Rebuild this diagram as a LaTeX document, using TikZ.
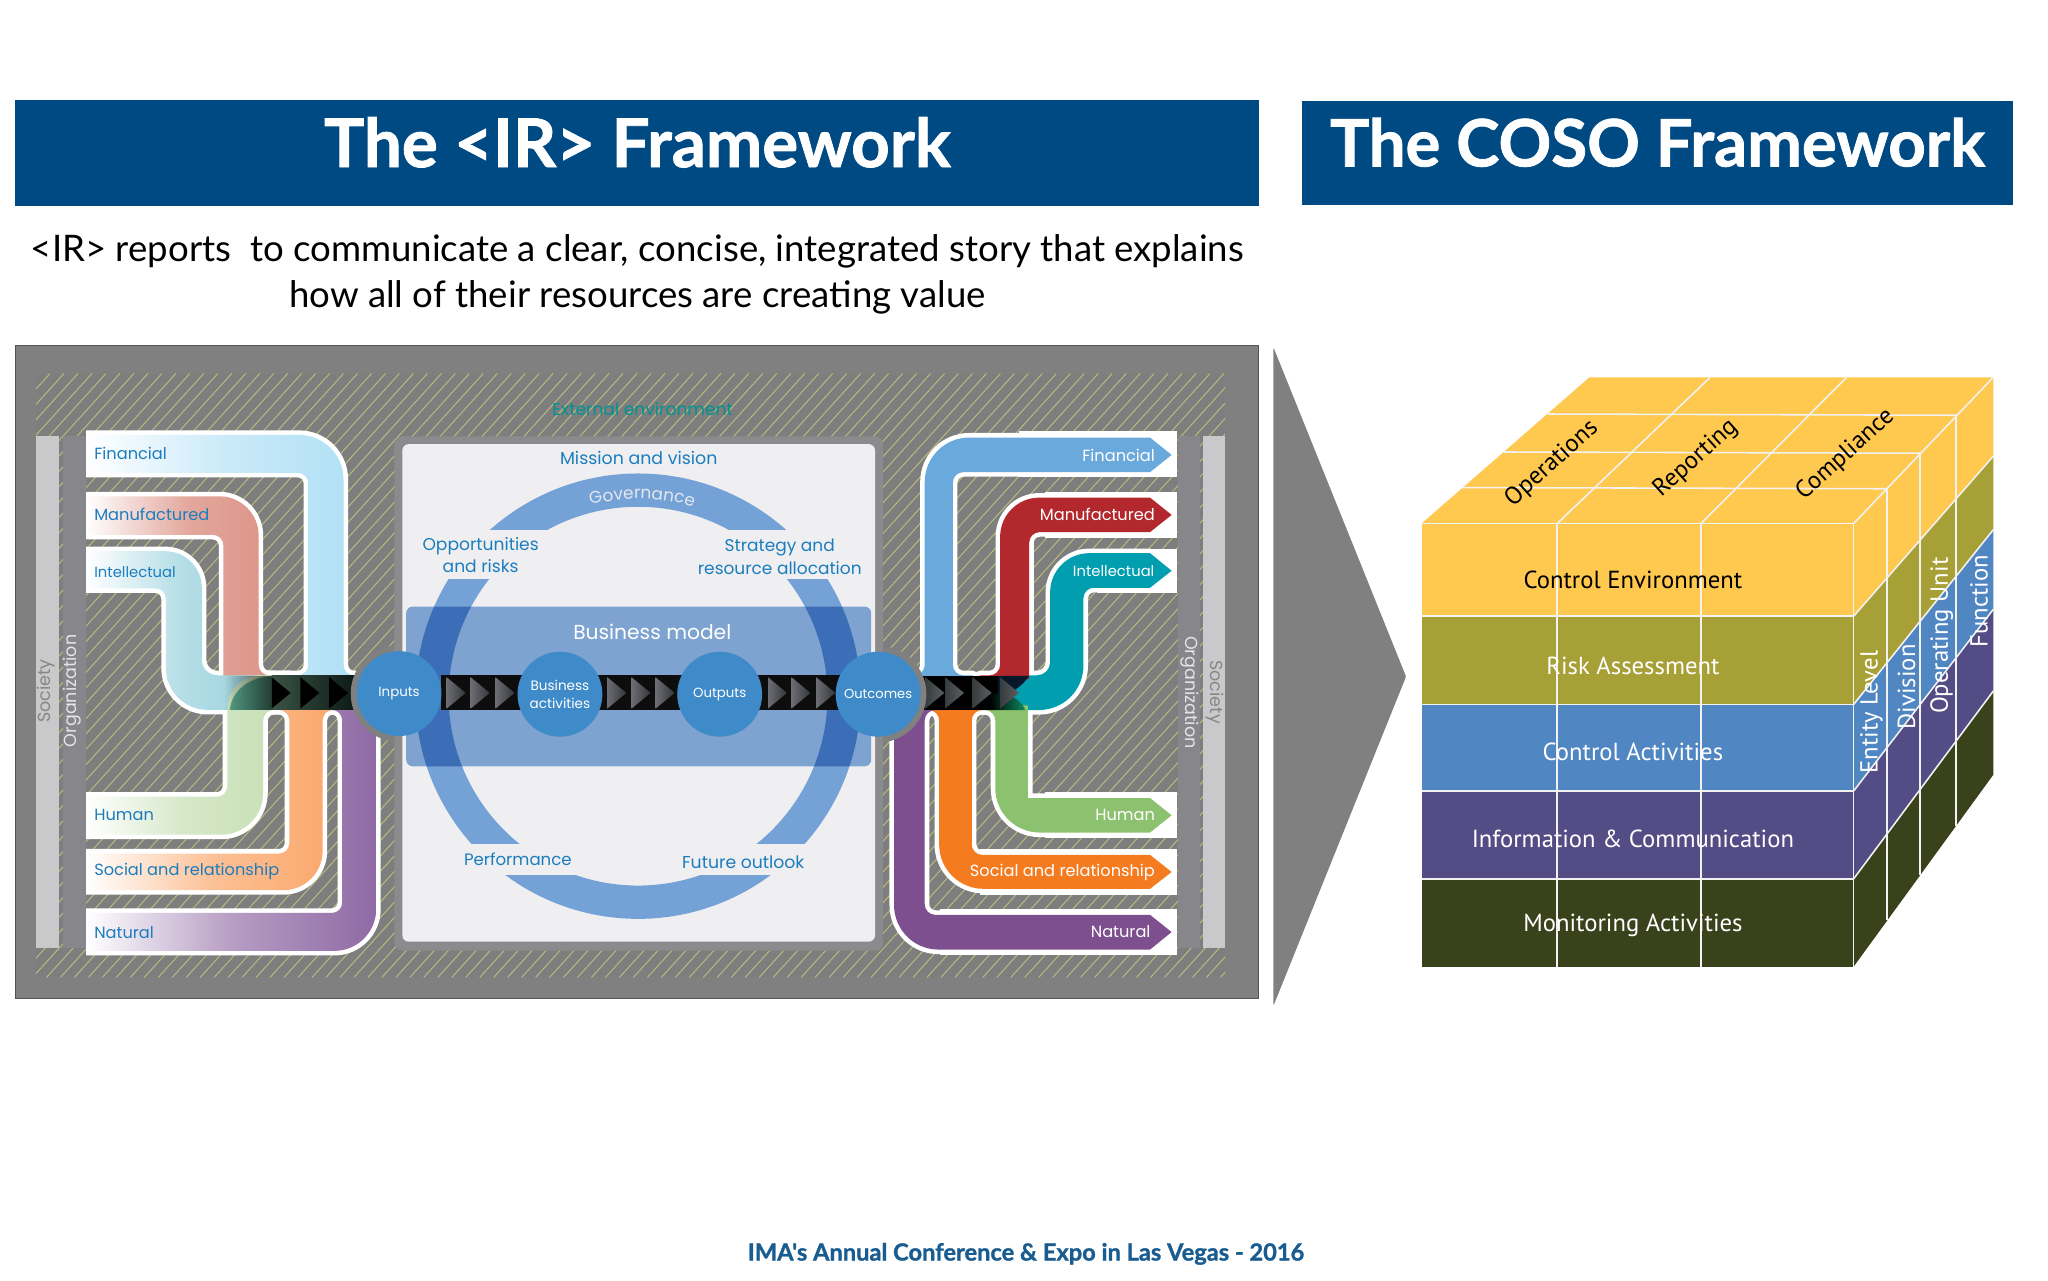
\documentclass[tikz,border=0pt]{standalone}
\usepackage{fontspec}
\setmainfont{Lato}
\newfontfamily\ttlf[BoldFeatures={FakeBold=1.2}]{Lato}
\newfontfamily\irf{Poppins}
\newfontfamily\cosof{PT Sans}
\usetikzlibrary{decorations.text}
\definecolor{hdr}{HTML}{004A84}
\definecolor{pgray}{HTML}{808080}
\definecolor{hatchbg}{HTML}{7E7E7E}
\definecolor{hatchln}{HTML}{B5B97D}
\definecolor{socbar}{HTML}{C9C9CB}
\definecolor{orgbar}{HTML}{87878B}
\definecolor{midgray}{HTML}{8B8B8D}
\definecolor{midpanel}{HTML}{EFEFF1}
\definecolor{ringc}{HTML}{74A1D6}
\definecolor{ringd}{HTML}{3C6EB8}
\definecolor{bmc}{HTML}{7EA3D0}
\definecolor{circ}{HTML}{3F8AC8}
\definecolor{irtext}{HTML}{1C7DBE}
\definecolor{lfin}{HTML}{AEDFF5}
\definecolor{lman}{HTML}{D98A7C}
\definecolor{lint}{HTML}{96D0DC}
\definecolor{lhum}{HTML}{C6DFB4}
\definecolor{lsoc}{HTML}{FBA568}
\definecolor{lnat}{HTML}{8F69A4}
\definecolor{rfin}{HTML}{6AA9DC}
\definecolor{rman}{HTML}{B3282D}
\definecolor{rint}{HTML}{009EAF}
\definecolor{rhum}{HTML}{8CC26F}
\definecolor{rsoc}{HTML}{F47B20}
\definecolor{rnat}{HTML}{7E4F8E}
\definecolor{cy}{HTML}{FFC84E}
\definecolor{co}{HTML}{A7A037}
\definecolor{cb}{HTML}{5086C2}
\definecolor{cp}{HTML}{544C84}
\definecolor{cd}{HTML}{3A421C}
\definecolor{triA}{HTML}{6C6D72}
\definecolor{triB}{HTML}{33363A}
\definecolor{triC}{HTML}{363B3E}
\definecolor{triD}{HTML}{5C6060}
\definecolor{lensc}{HTML}{5AA88E}
\definecolor{lbarA}{HTML}{3A5345}
\definecolor{lbarB}{HTML}{0C1A15}
\definecolor{navy}{HTML}{07182A}
\definecolor{rlens}{HTML}{0E8A5F}
\tikzset{
  r/.style={rounded corners=#1pt},
  s/.style={sharp corners},
  edge/.style={draw=white,line width=7pt,line join=round},
  title/.style={font=\ttlf\bfseries\fontsize{51.5}{54}\selectfont,text=white,inner sep=0pt},
  sub/.style={font=\ttlf\fontsize{28}{30}\selectfont,text=black,inner sep=0pt},
  irt/.style={font=\irf\fontsize{12.4}{13}\selectfont,text=irtext,inner sep=0pt},
  irw/.style={font=\irf\fontsize{12.4}{13}\selectfont,text=white,inner sep=0pt},
  irc/.style={font=\irf\fontsize{13.1}{14}\selectfont,text=irtext,inner sep=0pt},
  circt/.style={font=\irf\fontsize{10.2}{13}\selectfont,text=white,inner sep=0pt,align=center},
  circb/.style={circle,fill=circ,minimum size=65pt,inner sep=0pt},
  barl/.style={font=\irf\fontsize{13.4}{14}\selectfont,inner sep=0pt,rotate=90},
  cube/.style={font=\cosof\fontsize{18.9}{21}\selectfont,inner sep=0pt},
  cubeline/.style={draw=white!90!gray,line width=1.2pt},
}
\def\tri#1{(#1,518.5) -- (#1+14.5,530.5) -- (#1,542.5) -- cycle}
\begin{document}
\begin{tikzpicture}[x=1pt,y=-1pt]
\useasboundingbox (0,0) rectangle (1568,980);
\fill[white] (0,0) rectangle (1568,980);
% headers
\fill[hdr] (11.5,76.5) rectangle (964,158);
\fill[hdr] (997,77) rectangle (1541,157);
\node[title] (t1) at (488,109) {The <IR> Framework};
\node[title,font=\ttlf\bfseries\fontsize{50}{54}\selectfont] (t2) at (1269,109) {The COSO Framework};
\node[sub] (s1) at (488,192.3) {<IR> reports\ \ to communicate a clear, concise, integrated story that explains};
\node[sub] (s2) at (488,227.5) {how all of their resources are creating value};
% panel
\fill[pgray,draw=black!35!gray,line width=.5pt] (11.5,264.5) rectangle (963.5,764);
\begin{scope}
\clip (27.6,286) rectangle (938,748.3);
\fill[hatchbg] (27.6,286) rectangle (938,748.3);
\foreach \k in {0,...,130}
  \draw[hatchln,line width=.8pt] ({27.6+\k*10.7-420},748.3) -- ({27.6+\k*10.7},286);
\end{scope}
% left ribbons
\def\pFin{(66,333) [r=34]-- (263,333) [r=8]-- (263,517) [s]-- (278,517) -- (278,520) -- (220,520) -- (220,517) [r=8]-- (236,517) -- (236,362) [s]-- (66,362) -- cycle}
\def\pMan{(66,380) [r=30]-- (198,380) [r=8]-- (198,517) [s]-- (222,517) -- (222,543.5) -- (171,543.5) [r=26]-- (171,517) [s]-- (171,520) [r=8]-- (171,409.5) [s]-- (66,409.5) -- cycle}
\def\pInt{(66,422) [r=28]-- (154.5,422) [r=12]-- (154.5,517) [s]-- (210,517) -- (210,543.5) [r=32]-- (127,543.5) [r=8]-- (127,450.5) [s]-- (66,450.5) -- cycle}
\def\pHum{(66,639) [r=32]-- (201.5,639) [r=8]-- (201.5,543.5) [s]-- (222,543.5) -- (222,517) [r=26]-- (174,517) [s]-- (174,520) [r=8]-- (174,610) [s]-- (66,610) -- cycle}
\def\pSoc{(66,681.5) [r=30]-- (247,681.5) [r=8]-- (247,543.5) [s]-- (262,543.5) -- (262,540) -- (205,540) -- (205,543.5) [r=8]-- (221.5,543.5) -- (221.5,653.5) [s]-- (66,653.5) -- cycle}
\def\pNat{(66,728) [r=32]-- (288,728) [s]-- (288,540) -- (245,540) -- (245,543.5) [r=8]-- (262,543.5) -- (262,699) [s]-- (66,699) -- cycle}
\begin{scope}
\clip (66,300) rectangle (400,760);
\draw[edge] \pFin; \draw[edge] \pMan; \draw[edge] \pInt;
\draw[edge] \pHum; \draw[edge] \pSoc; \draw[edge] \pNat;
\end{scope}
\shade[left color=white,right color=lfin,middle color=lfin!65!white] \pFin;
\shade[left color=white,right color=lman!95!white,middle color=lman!75!white] \pMan;
\shade[left color=white,right color=lint,middle color=lint!70!white] \pInt;
\shade[left color=white,right color=lhum,middle color=lhum!75!white] \pHum;
\shade[left color=white,right color=lsoc,middle color=lsoc!70!white] \pSoc;
\shade[left color=white,right color=lnat,middle color=lnat!65!white] \pNat;
% overlap lens and fading bar, left
\fill[lensc] (208,518) .. controls (190,518) and (177,530) .. (176,543.5) -- (208,543.5) -- cycle;
\foreach \i in {0,...,23}
  \fill[black,opacity={(\i+1)/24*.62}] ({172+\i*1.5},517.5) rectangle ({172+(\i+1)*1.5},543.5);
\shade[left color=lbarA,right color=lbarB] (208,517.5) rectangle (272,543.5);
\foreach \a in {208,230,252} \fill[black] \tri{\a};
% right white end boxes
\fill[white] (780,330) rectangle (901,365);
\fill[white] (800,376.6) rectangle (901,411.8);
\fill[white] (840,420) rectangle (901,453.7);
\fill[white] (800,606.6) rectangle (901,641.8);
\fill[white] (750,649.7) rectangle (901,684.9);
\fill[white] (720,696) rectangle (901,731.2);
% right ribbons
\def\qFin{(695,517) -- (700,517) [r=8]-- (708,517) [r=34]-- (708,335) [s]-- (880.5,335) -- (897,348.3) -- (880.5,361.5) [r=8]-- (729.5,361.5) [r=8]-- (729.5,517) [s]-- (745,517) -- (745,520) -- (695,520) -- cycle}
\def\qMan{(750,520) -- (750,517) [r=8]-- (765.7,517) [r=30]-- (765.7,381) [s]-- (880.5,381) -- (897,394.2) -- (880.5,407.4) [r=8]-- (788,407.4) [s]-- (788,517) -- (788,520) -- cycle}
\def\qInt{(770,543.6) [r=34]-- (829.5,543.6) [r=8]-- (829.5,450) [s]-- (880.5,450) -- (897,437) -- (880.5,423.5) [r=30]-- (804,423.5) [r=10]-- (804,517) [s]-- (770,517) -- cycle}
\def\qHum{(750,540) -- (787,540) -- (787,611) [s]-- (880.5,611) -- (897,624.2) -- (880.5,637.4) [r=34]-- (762,637.4) [r=8]-- (762,543.6) [s]-- (745,543.6) -- (745,540) -- cycle}
\def\qSoc{(700,543.6) [r=8]-- (719,543.6) [r=34]-- (719,680.5) [s]-- (880.5,680.5) -- (897,667.6) -- (880.5,654.5) [r=8]-- (744,654.5) [r=8]-- (744,543.6) [s]-- (760,543.6) -- (760,540) -- (700,540) -- cycle}
\def\qNat{(670,540) -- (684.5,540) [r=34]-- (684.5,727) [s]-- (880.5,727) -- (897,713.6) -- (880.5,700.4) [r=8]-- (708,700.4) [r=8]-- (708,543.6) [s]-- (725,543.6) -- (725,540) -- cycle}
\draw[edge] \qFin; \draw[edge] \qMan; \draw[edge] \qInt;
\draw[edge] \qHum; \draw[edge] \qSoc; \draw[edge] \qNat;
\fill[white] (872,330) rectangle (901,365);
\fill[white] (872,376.6) rectangle (901,411.8);
\fill[white] (872,420) rectangle (901,453.7);
\fill[white] (872,606.6) rectangle (901,641.8);
\fill[white] (872,649.7) rectangle (901,684.9);
\fill[white] (872,696) rectangle (901,731.2);
\fill[rfin] \qFin; \fill[rint] \qInt; \fill[rman] \qMan;
\fill[rhum] \qHum; \fill[rsoc] \qSoc; \fill[rnat] \qNat;
% black bar right
\fill[black] (702,517.5) rectangle (765,543.6);
\fill[navy] (764,517.5) -- (788,517.5) .. controls (785,522) and (778,529) .. (771,531) -- (764,531) -- cycle;
\shade[left color=black,right color=rlens] (758,531) -- (771,531) .. controls (777,534) and (783,538) .. (785,543.6) -- (758,543.6) -- cycle;
\foreach \a in {708.5,723.6,744.7,765.7}
  \shade[left color=triC,right color=triD] \tri{\a};
% side bars
\fill[socbar] (27.6,334) rectangle (45.4,726);
\fill[orgbar] (48,334) rectangle (66,726);
\fill[orgbar] (902,334) rectangle (919,726);
\fill[socbar] (921,334) rectangle (938,726);
\node[barl,text=gray!95!white] (soc1) at (35.5,529) {Society};
\node[barl,text=gray!20!white] (org1) at (55.5,529) {Organization};
\node[barl,rotate=180,text=gray!20!white] (org2) at (911,530) {Organization};
\node[barl,rotate=180,text=gray!95!white] (soc2) at (930,530) {Society};
% circle halos, then centre panel
\fill[pgray] (305.5,531) circle[radius=37];
\fill[pgray] (672.3,531.5) circle[radius=37];
\fill[midgray,rounded corners=6pt] (302,334) rectangle (676,727.8);
\fill[midpanel,rounded corners=5pt] (308,340) rectangle (670,721);
\fill[ringc,even odd rule] (488.5,533) circle[radius=170.5] (488.5,533) circle[radius=145];
\fill[midpanel] (309,406) rectangle (669,443);
\fill[midpanel] (309,646) rectangle (669,670);
\fill[bmc,rounded corners=5pt] (311,464.4) rectangle (667,586.7);
\begin{scope}
\clip[rounded corners=5pt] (311,464.4) rectangle (667,586.7);
\fill[ringd,even odd rule] (488.5,533) circle[radius=170.5] (488.5,533) circle[radius=145];
\end{scope}
\node[irw,font=\irf\fontsize{15.5}{16}\selectfont] (bm) at (499.4,483.4) {Business model};
% centre bar
\fill[black!95!white] (338,517) rectangle (645,543.7);
\foreach \a in {342,360.4,379.4,465,483.6,502,588,606,625}
  \shade[left color=triA,right color=triB] \tri{\a};
% circles
\node[circb] (inp) at (305.5,531) {};
\node[circb] (act) at (428.7,531.5) {};
\node[circb] (out) at (551,531.5) {};
\node[circb] (oc) at (672.3,531.5) {};
\node[circt] at (inp) {Inputs};
\node[circt,font=\irf\fontsize{10.4}{13.3}\selectfont] at (act) {Business\\activities};
\node[circt] at (out) {Outputs};
\node[circt,font=\irf\fontsize{10}{13}\selectfont] at (oc) {Outcomes};
% labels
\node[irc,text=teal!85!cyan] (ext) at (492,313) {External environment};
\node[irc,font=\irf\fontsize{13.3}{14}\selectfont] (mv) at (489,351) {Mission and vision};
\node[irc,align=center,font=\irf\fontsize{13.1}{17}\selectfont] (opp) at (368,424.7) {Opportunities\\and risks};
\node[irc,align=center,font=\irf\fontsize{13}{17.8}\selectfont] (str) at (597,426.3) {Strategy and\\resource allocation};
\node[irc,font=\irf\fontsize{12.7}{14}\selectfont] (perf) at (396.5,657.6) {Performance};
\node[irc,font=\irf\fontsize{13.2}{14}\selectfont] (fut) at (569,660.4) {Future outlook};
\begin{scope}[y=1pt]
\path[decorate,decoration={text along path,text align=center,text color=midpanel!90!ringc,
  text={|\irf\fontsize{13}{14}\selectfont|Governance}}]
  ([shift={(110:151)}]489,-533) arc[start angle=110,end angle=68,radius=151];
\end{scope}
\foreach \n/\y/\t in {a/347.3/Financial,b/393.8/Manufactured,d/623.8/Human,e/667.3/Social and relationship,f/714/Natural}
  \node[irt,anchor=west] (l\n) at (72,\y) {\t};
\node[irt,anchor=west,font=\irf\fontsize{11.3}{13}\selectfont] (lc) at (72,438.3) {Intellectual};
\foreach \n/\x/\y/\t in {a/884.4/348.3/Financial,b/884.4/394.2/Manufactured,d/884.4/624.2/Human,e/884.4/667.6/Social and relationship,f/881/713.6/Natural}
  \node[irw,anchor=east] (r\n) at (\x,\y) {\t};
\node[irw,anchor=east,font=\irf\fontsize{11.3}{13}\selectfont] (rc) at (884,437) {Intellectual};
% big arrow
\fill[pgray,rounded corners=1pt] (975,266) -- (1076.5,518) -- (975,770) -- cycle;
% COSO cube, in crop coordinates
\begin{scope}[shift={(1072,275.7)},x=.3165pt,y=-.3127pt]
\fill[cy] (52,400) rectangle (1097,627);
\fill[co] (52,627) rectangle (1097,843);
\fill[cb] (52,843) rectangle (1097,1055);
\fill[cp] (52,1055) rectangle (1097,1270);
\fill[cd] (52,1270) rectangle (1097,1485);
\fill[cy] (52,400) -- (458,42) -- (1435,42) -- (1435,235) -- (1097,627) -- (1097,400) -- cycle;
\fill[co] (1097,627) -- (1435,235) -- (1435,415) -- (1097,843) -- cycle;
\fill[cb] (1097,843) -- (1435,415) -- (1435,610) -- (1097,1055) -- cycle;
\fill[cp] (1097,1055) -- (1435,610) -- (1435,810) -- (1097,1270) -- cycle;
\fill[cd] (1097,1270) -- (1435,810) -- (1435,1015) -- (1097,1485) -- cycle;
\foreach \y in {400,627,843,1055,1270} \draw[cubeline] (52,\y) -- (1097,\y);
\draw[cubeline] (380,400) -- (380,1485);
\draw[cubeline] (728,400) -- (728,1485);
\draw[cubeline] (1097,400) -- (1097,1485);
\draw[cubeline] (1178,315) -- (1178,1372);
\draw[cubeline] (1258,228) -- (1258,1261);
\draw[cubeline] (1345,135) -- (1345,1140);
\draw[cubeline] (1097,400) -- (1435,42);
\draw[cubeline] (1097,627) -- (1435,235);
\draw[cubeline] (1097,843) -- (1435,415);
\draw[cubeline] (1097,1055) -- (1435,610);
\draw[cubeline] (1097,1270) -- (1435,810);
\draw[cubeline] (150,312) -- (1178,315);
\draw[cubeline] (250,225) -- (1258,228);
\draw[cubeline] (358,132) -- (1345,135);
\draw[cubeline] (380,400) -- (750,42);
\draw[cubeline] (728,400) -- (1080,42);
\node[cube,text=black] (ce) at (563,537) {Control Environment};
\node[cube,text=white] (ra) at (563,748) {Risk Assessment};
\node[cube,text=white] (ca) at (563,960) {Control Activities};
\node[cube,text=white] (ic) at (563,1172) {Information \& Communication};
\node[cube,text=white] (ma) at (563,1385) {Monitoring Activities};
\node[cube,text=black,rotate=42] (ops) at (367,254) {Operations};
\node[cube,text=black,rotate=42] (rep) at (715,241) {Reporting};
\node[cube,text=black,rotate=42] (com) at (1077,231) {Compliance};
\node[cube,text=white,rotate=90] (el) at (1140,862) {Entity Level};
\node[cube,text=white,rotate=90] (dv) at (1225,800) {Division};
\node[cube,text=white,rotate=90] (ou) at (1310,675) {Operating Unit};
\node[cube,text=white,rotate=90] (fn) at (1400,590) {Function};
\end{scope}
% footer
\node[inner sep=0pt,font=\ttlf\bfseries\fontsize{18.1}{20}\selectfont,text=hdr!90!white] (foot) at (785.5,960) {IMA's Annual Conference \& Expo in Las Vegas - 2016};
\end{tikzpicture}
\end{document}
